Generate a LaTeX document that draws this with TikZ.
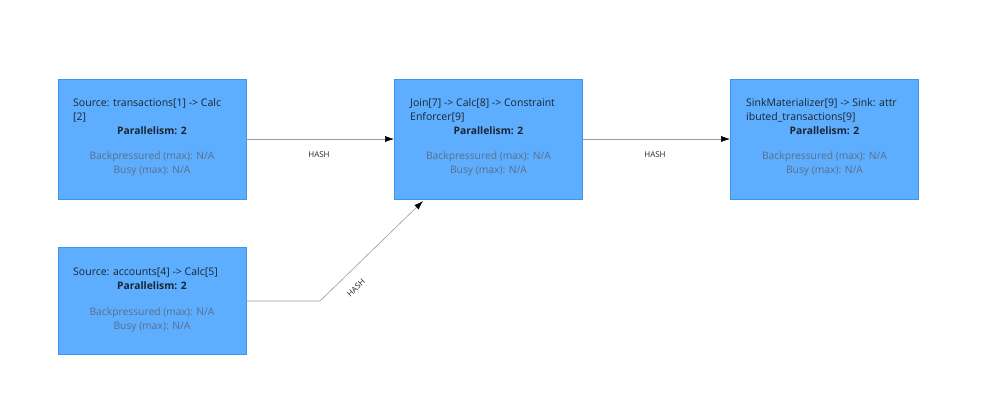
\documentclass[tikz,border=0pt]{standalone}
\usepackage{fontspec}
\setmainfont{Open Sans}
\usepackage{xcolor}
\usetikzlibrary{arrows.meta}
\definecolor{opfill}{HTML}{5EAEFF}
\definecolor{opdraw}{HTML}{3F95EE}
\definecolor{optext}{HTML}{1A2530}
\definecolor{opmute}{HTML}{5A6E86}
\definecolor{edgegray}{HTML}{9A9A9A}

\begin{document}
\begin{tikzpicture}[
    x=1pt, y=-1pt,
    op/.style={rectangle, draw=opdraw, fill=opfill, line width=0.8pt, minimum width=188pt, minimum height=120pt, inner sep=0pt},
    title/.style={anchor=base west, align=left, inner sep=0pt, text=optext, font=\fontsize{10.5}{14}\selectfont},
    par/.style={anchor=base, inner sep=0pt, text=optext, font=\fontsize{10.3}{14}\selectfont\bfseries},
    stat/.style={anchor=base, inner sep=0pt, align=center, text=opmute, font=\fontsize{10.3}{14}\selectfont},
    arrow/.style={-{Latex[length=9pt,width=6pt,color=black]}, draw=edgegray, line width=0.6pt},
    ship/.style={inner sep=0pt, text=optext, font=\fontsize{8}{9}\selectfont}
]

\useasboundingbox (0,0) rectangle (998,402);

% Source: transactions
\node[op] (src_tx) at (152,139) {};
\node[title] (src_tx_t) at (73,120) {Source: transactions[1] -> Calc\\{[2]}};
\node[par] (src_tx_p) at (152,134) {Parallelism: 2};
\node[stat] (src_tx_s) at (152,173) {Backpressured (max): N/A\\Busy (max): N/A};

% Source: accounts
\node[op, minimum height=107pt] (src_acc) at (152,300.5) {};
\node[title] (src_acc_t) at (73,275) {Source: accounts[4] -> Calc[5]};
\node[par] (src_acc_p) at (152,289) {Parallelism: 2};
\node[stat] (src_acc_s) at (152,329) {Backpressured (max): N/A\\Busy (max): N/A};

% Join
\node[op] (join) at (488.5,139) {};
\node[title] (join_t) at (410,120) {Join[7] -> Calc[8] -> Constraint\\Enforcer[9]};
\node[par] (join_p) at (488.5,134) {Parallelism: 2};
\node[stat] (join_s) at (488.5,173) {Backpressured (max): N/A\\Busy (max): N/A};

% Sink
\node[op] (sink) at (824.5,139) {};
\node[title] (sink_t) at (746,120) {SinkMaterializer[9] -> Sink: attr\\ibuted\_transactions[9]};
\node[par] (sink_p) at (824.5,134) {Parallelism: 2};
\node[stat] (sink_s) at (824.5,173) {Backpressured (max): N/A\\Busy (max): N/A};

% Edges
\coordinate (bend) at (320,301);
\coordinate (join_in) at (423,201);
\draw[arrow] (src_tx.east) -- (join.west);
\draw[arrow] (join.east) -- (sink.west);
\draw[arrow] (src_acc.east |- bend) -- (bend) -- (join_in);

% Ship strategy labels
\node[ship] (h1) at (319,155) {HASH};
\node[ship] (h2) at (655,155) {HASH};
\node[ship, rotate=44] (h3) at (356,288) {HASH};

\end{tikzpicture}
\end{document}
